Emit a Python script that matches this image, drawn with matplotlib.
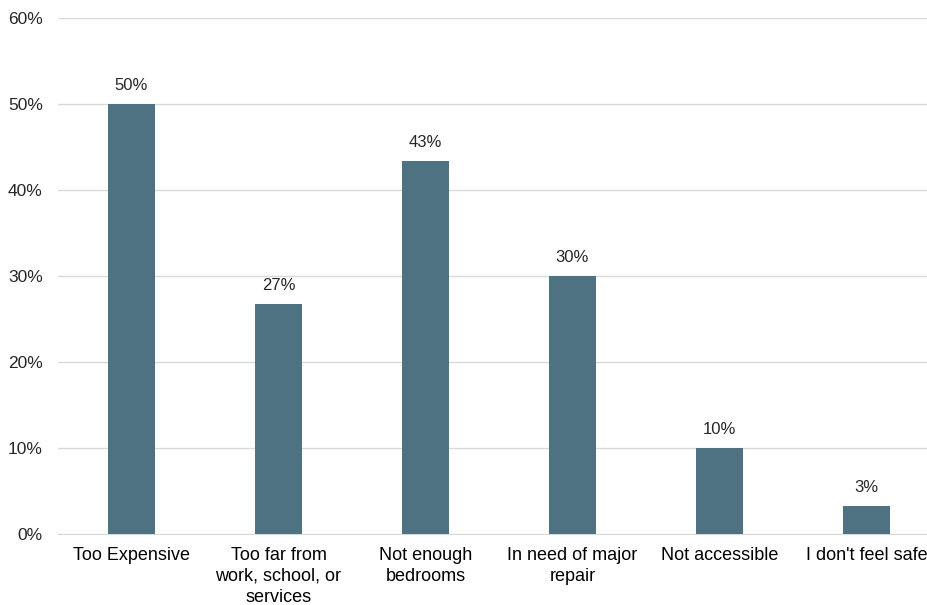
import matplotlib
matplotlib.use('Agg')
from matplotlib import pyplot as plt
from matplotlib.ticker import FuncFormatter

categories = ['Too Expensive', 'Too far from\nwork, school, or\nservices',
              'Not enough\nbedrooms', 'In need of major\nrepair',
              'Not accessible', "I don't feel safe"]
values = [50.0, 26.7, 43.4, 30.0, 10.0, 3.3]
labels = ['50%', '27%', '43%', '30%', '10%', '3%']

plt.rcParams['font.family'] = ['Liberation Sans', 'DejaVu Sans']

fig = plt.figure(figsize=(9.27, 6.05), dpi=100)
ax = fig.add_axes([58 / 927, 71 / 605, 882 / 927, 516 / 605])

x = range(len(categories))
bars = ax.bar(x, values, width=0.32, color='#4F7282', zorder=3)
for b, lab in zip(bars, labels):
    ax.annotate(lab, (b.get_x() + b.get_width() / 2, b.get_height()),
                xytext=(0, 8), textcoords='offset points',
                ha='center', va='bottom', fontsize=12, color='#262626')

ax.set_xlim(-0.5, len(categories) - 0.5)
ax.set_ylim(0, 60)
ax.set_yticks(range(0, 61, 10))
ax.yaxis.set_major_formatter(FuncFormatter(lambda v, p: '%d%%' % v))
ax.grid(axis='y', color='#D9D9D9', linewidth=1, zorder=0)
ax.set_xticks(list(x))
ax.set_xticklabels(categories, fontsize=13, color='#000000', linespacing=1.32)
ax.tick_params(axis='both', length=0)
ax.tick_params(axis='x', pad=9)
ax.tick_params(axis='y', pad=11, labelcolor='#262626', labelsize=12.5)
for s in ['top', 'right', 'left']:
    ax.spines[s].set_visible(False)
ax.spines['bottom'].set_color('#D9D9D9')

fig.savefig('out.png', dpi=100)
